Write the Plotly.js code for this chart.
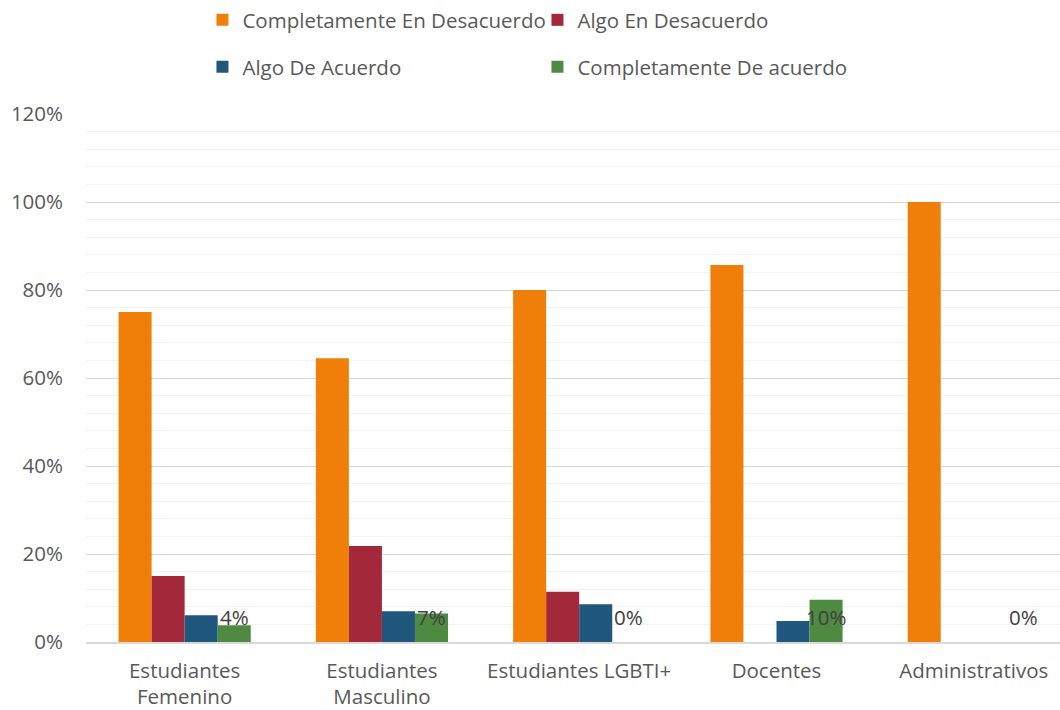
<!DOCTYPE html>
<html><head><meta charset="utf-8">
<script src="https://cdn.plot.ly/plotly-3.0.1.min.js"></script>
<style>html,body{margin:0;padding:0;background:#fff;overflow:hidden}</style>
</head><body><div id="chart" style="width:1060px;height:710px"></div>
<script>
const categories = ["Estudiantes<br>Femenino", "Estudiantes<br>Masculino", "Estudiantes LGBTI+", "Docentes", "Administrativos"];
const seriesNames = ["Completamente En Desacuerdo", "Algo En Desacuerdo", "Algo De Acuerdo", "Completamente De acuerdo"];
const completamenteDesacuerdo = [75, 64.5, 80, 85.7, 100];
const algoDesacuerdo = [15, 21.8, 11.4, 0, 0];
const algoAcuerdo = [6.1, 7.0, 8.6, 4.8, 0];
const completamenteAcuerdo = [3.8, 6.5, 0, 9.6, 0];
const colors = ["#F07F09", "#A2283A", "#1F587C", "#4F8A43"];
const yTickVals = [0, 20, 40, 60, 80, 100, 120];

const FONT = "Open Sans, sans-serif";
const TXT = "#595959";
const FS = 20.5;
const bargap = 0.33;
const allSeries = [completamenteDesacuerdo, algoDesacuerdo, algoAcuerdo, completamenteAcuerdo];

const traces = allSeries.map((vals, i) => ({
  type: "bar",
  name: seriesNames[i],
  x: categories,
  y: vals,
  marker: {color: colors[i]},
  legend: i < 2 ? "legend" : "legend2",
  hoverinfo: "skip"
}));

// data labels for the last series, placed at its bar position (inside base)
const barW = (1 - bargap) / allSeries.length;
const lastOffset = barW * 1.5;
const annotations = completamenteAcuerdo.map((v, i) => ({
  x: i + lastOffset, y: 0, xref: "x", yref: "y",
  text: Math.round(v) + "%", showarrow: false,
  yanchor: "middle", yshift: 25,
  font: {family: FONT, size: FS, color: "#404040"}
}));

const legendCommon = {
  orientation: "h", xref: "container", yref: "container",
  xanchor: "left", yanchor: "middle",
  entrywidth: 290, entrywidthmode: "pixels",
  font: {family: FONT, size: FS, color: TXT},
  bgcolor: "rgba(0,0,0,0)", traceorder: "normal"
};

const layout = {
  width: 1060, height: 710,
  margin: {l: 86, r: 0, t: 114, b: 68, pad: 0},
  paper_bgcolor: "#fff", plot_bgcolor: "#fff",
  barmode: "group", bargap: bargap, bargroupgap: 0,
  font: {family: FONT, size: FS, color: TXT},
  showlegend: true,
  legend: Object.assign({}, legendCommon, {x: 0.191, y: 1 - 20/710}),
  legend2: Object.assign({}, legendCommon, {x: 0.191, y: 1 - 67/710}),
  xaxis: {
    type: "category", range: [-0.5, 4.437],
    showgrid: false, showline: true, linecolor: "#d9d9d9", linewidth: 2,
    ticks: "", ticklabelstandoff: 9,
    tickfont: {family: FONT, size: FS, color: TXT},
    fixedrange: true
  },
  yaxis: {
    range: [0, 120], tickvals: yTickVals, ticktext: yTickVals.map(v => v + "%"),
    showgrid: true, gridcolor: "#d9d9d9", gridwidth: 1,
    minor: {dtick: 4, showgrid: true, gridcolor: "#f2f2f2", gridwidth: 1},
    zeroline: false, showline: false, ticks: "",
    ticklabelstandoff: 22,
    tickfont: {family: FONT, size: FS, color: TXT},
    fixedrange: true
  },
  annotations: annotations
};

Plotly.newPlot("chart", traces, layout, {displayModeBar: false, staticPlot: true});
</script></body></html>
